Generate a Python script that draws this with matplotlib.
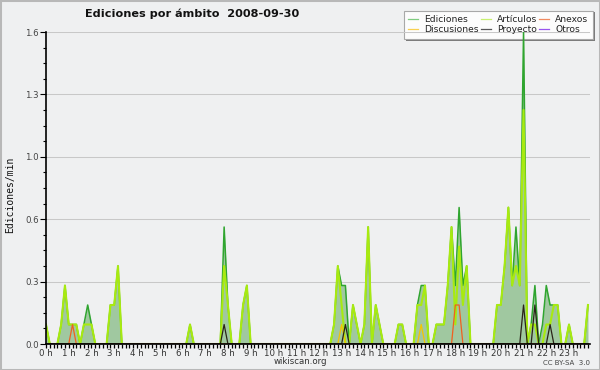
import numpy as np
import matplotlib
matplotlib.use("Agg")
import matplotlib.pyplot as plt
from matplotlib.patches import Rectangle
from matplotlib.lines import Line2D

# ediciones por minuto, intervalos de 10 min (6 por hora)
ediciones = [
    0.1, 0, 0, 0, 0.1, 0.3, 0.1, 0.1, 0.1, 0, 0.1, 0.2,      # 0-2 h
    0.1, 0, 0, 0, 0, 0.2, 0.2, 0.4, 0, 0, 0, 0,              # 2-4 h
    0, 0, 0, 0, 0, 0, 0, 0, 0, 0, 0, 0,                      # 4-6 h
    0, 0, 0.1, 0, 0, 0, 0, 0, 0, 0, 0, 0.6,                  # 6-8 h
    0.2, 0, 0, 0, 0.2, 0.3, 0, 0, 0, 0, 0, 0,                # 8-10 h
    0, 0, 0, 0, 0, 0, 0, 0, 0, 0, 0, 0,                      # 10-12 h
    0, 0, 0, 0, 0.1, 0.4, 0.3, 0.3, 0, 0.2, 0.1, 0,          # 12-14 h
    0.1, 0.6, 0, 0.2, 0.1, 0, 0, 0, 0, 0.1, 0.1, 0,          # 14-16 h
    0, 0, 0.2, 0.3, 0.3, 0, 0, 0.1, 0.1, 0.1, 0.3, 0.6,      # 16-18 h
    0.3, 0.7, 0.3, 0.4, 0, 0, 0, 0, 0, 0, 0, 0.2,            # 18-20 h
    0.2, 0.4, 0.7, 0.3, 0.6, 0.3, 1.6, 0, 0.1, 0.3, 0, 0.1,  # 20-22 h
    0.3, 0.2, 0.2, 0.2, 0, 0, 0.1, 0, 0, 0, 0, 0.2,          # 22-24 h
]
articulos = [
    0.1, 0, 0, 0, 0.1, 0.3, 0.1, 0.1, 0.1, 0, 0.1, 0.1,
    0.1, 0, 0, 0, 0, 0.2, 0.2, 0.4, 0, 0, 0, 0,
    0, 0, 0, 0, 0, 0, 0, 0, 0, 0, 0, 0,
    0, 0, 0.1, 0, 0, 0, 0, 0, 0, 0, 0, 0.4,
    0.2, 0, 0, 0, 0.2, 0.3, 0, 0, 0, 0, 0, 0,
    0, 0, 0, 0, 0, 0, 0, 0, 0, 0, 0, 0,
    0, 0, 0, 0, 0.1, 0.4, 0.2, 0, 0, 0.2, 0.1, 0,
    0.1, 0.6, 0, 0.2, 0.1, 0, 0, 0, 0, 0.1, 0.1, 0,
    0, 0, 0.2, 0.2, 0.3, 0, 0, 0.1, 0.1, 0.1, 0.3, 0.6,
    0.1, 0.5, 0.2, 0.4, 0, 0, 0, 0, 0, 0, 0, 0.2,
    0.2, 0.4, 0.7, 0.3, 0.4, 0.3, 1.2, 0, 0.1, 0.1, 0, 0,
    0.1, 0.1, 0.2, 0.2, 0, 0, 0.1, 0, 0, 0, 0, 0.2,
]
# series casi vacias: indice del intervalo -> valor
anexos_nz = {7: 0.1, 108: 0.2, 109: 0.2}
discusiones_nz = {78: 0.1, 99: 0.1}
proyecto_nz = {47: 0.1, 79: 0.1, 126: 0.2, 129: 0.2, 133: 0.1}
otros_nz = {}

hour_labels = [f"{h} h" for h in range(24)]
ytick_vals = [0, 0.32, 0.64, 0.96, 1.28, 1.6]


def from_nz(d):
    a = np.zeros(144)
    for k, v in d.items():
        a[k] = v
    return a


t = np.arange(144) / 6.0
tot = np.array(ediciones)
art = np.array(articulos)

W, H = 600, 370
bg = "#eff0f1"


def fx(px):
    return px / W


def fy(py):
    return 1 - py / H


fig = plt.figure(figsize=(6, 3.7), dpi=100, facecolor=bg)

# marco de la imagen
fig.patches.append(Rectangle((0, 0), 1, 1, transform=fig.transFigure,
                             fill=False, edgecolor="#b8b8b8", lw=2.2, zorder=-3))

# leyenda (debajo del grafico)
fig.patches.append(Rectangle((fx(406), fy(41)), fx(189), 29 / H, transform=fig.transFigure,
                             facecolor="#7a7a7a", edgecolor="none", zorder=-2))
fig.patches.append(Rectangle((fx(404), fy(38.5)), fx(189), 27 / H, transform=fig.transFigure,
                             facecolor="#fcfcfc", edgecolor="#a8a8a8", lw=0.8, zorder=-1))
leg = [("Ediciones", "#80cc80", 408, 19), ("Discusiones", "#f8d050", 408, 29),
       ("Artículos", "#c8f070", 481, 19), ("Proyecto", "#585858", 481, 29),
       ("Anexos", "#f08a60", 539, 19), ("Otros", "#9955ee", 539, 29)]
for name, col, x, y in leg:
    fig.lines.append(Line2D([fx(x), fx(x + 10)], [fy(y), fy(y)], transform=fig.transFigure,
                            color=col, lw=0.9))
    fig.text(fx(x + 16), fy(y), name, fontsize=6.6, color="#222222", va="center", ha="left")

ax = fig.add_axes([fx(46), fy(344), fx(544), 312 / H])
ax.set_facecolor("none")

ax.fill_between(t, tot, color="#a0c8a0", lw=0, zorder=1)
ax.plot(t, tot, color="#2fa52f", lw=1.1, zorder=2)
ax.plot(t, art, color="#a8ea10", lw=1.5, zorder=3)
ax.plot(t, from_nz(discusiones_nz), color="#f5c400", lw=0.9, zorder=4)
ax.plot(t, from_nz(anexos_nz), color="#f06020", lw=0.9, zorder=4)
ax.plot(t, from_nz(otros_nz), color="#9933ff", lw=0.9, zorder=4)
ax.plot(t, from_nz(proyecto_nz), color="#2a2418", lw=0.9, zorder=5)

ax.set_xlim(0, 544 / 22.74)
ax.set_ylim(0, 1.6)

ax.set_xticks(np.arange(24))
ax.set_xticklabels(hour_labels)
ax.set_xticks(np.arange(0, 544 / 22.74, 1 / 6.0), minor=True)
ax.set_yticks(ytick_vals)
ax.set_yticklabels([f"{v:.1f}" for v in ytick_vals])
ax.set_yticks(np.arange(0, 1.61, 0.08), minor=True)

ax.grid(axis="y", which="major", color="#c8c8c8", lw=0.75, zorder=0)
ax.set_axisbelow(True)
for s in ["top", "right"]:
    ax.spines[s].set_visible(False)
for s in ["left", "bottom"]:
    ax.spines[s].set_linewidth(1.2)
    ax.spines[s].set_zorder(6)

ax.tick_params(axis="x", which="both", direction="out", length=3, width=0.9,
               labelsize=6.2, labelcolor="#333333", pad=0.5)
ax.tick_params(axis="y", which="major", direction="out", length=4, width=0.8,
               labelsize=6.2, labelcolor="#444444", pad=1)
ax.tick_params(axis="y", which="minor", direction="out", length=2.2, width=0.8)

fig.text(fx(85), fy(14), "Ediciones por ámbito  2008-09-30", fontsize=8.1,
         fontweight="bold", ha="left", va="center", color="#111111")
fig.text(fx(10), fy(195), "Ediciones/min", rotation=90, fontsize=7,
         family="DejaVu Sans Mono", ha="center", va="center", color="#111111")
fig.text(fx(300), fy(361), "wikiscan.org", fontsize=6.2, ha="center", va="center",
         color="#333333")
fig.text(fx(590), fy(363), "CC BY-SA  3.0", fontsize=5, ha="right", va="center",
         color="#444444")

fig.savefig("out.png", dpi=100, facecolor=bg)
